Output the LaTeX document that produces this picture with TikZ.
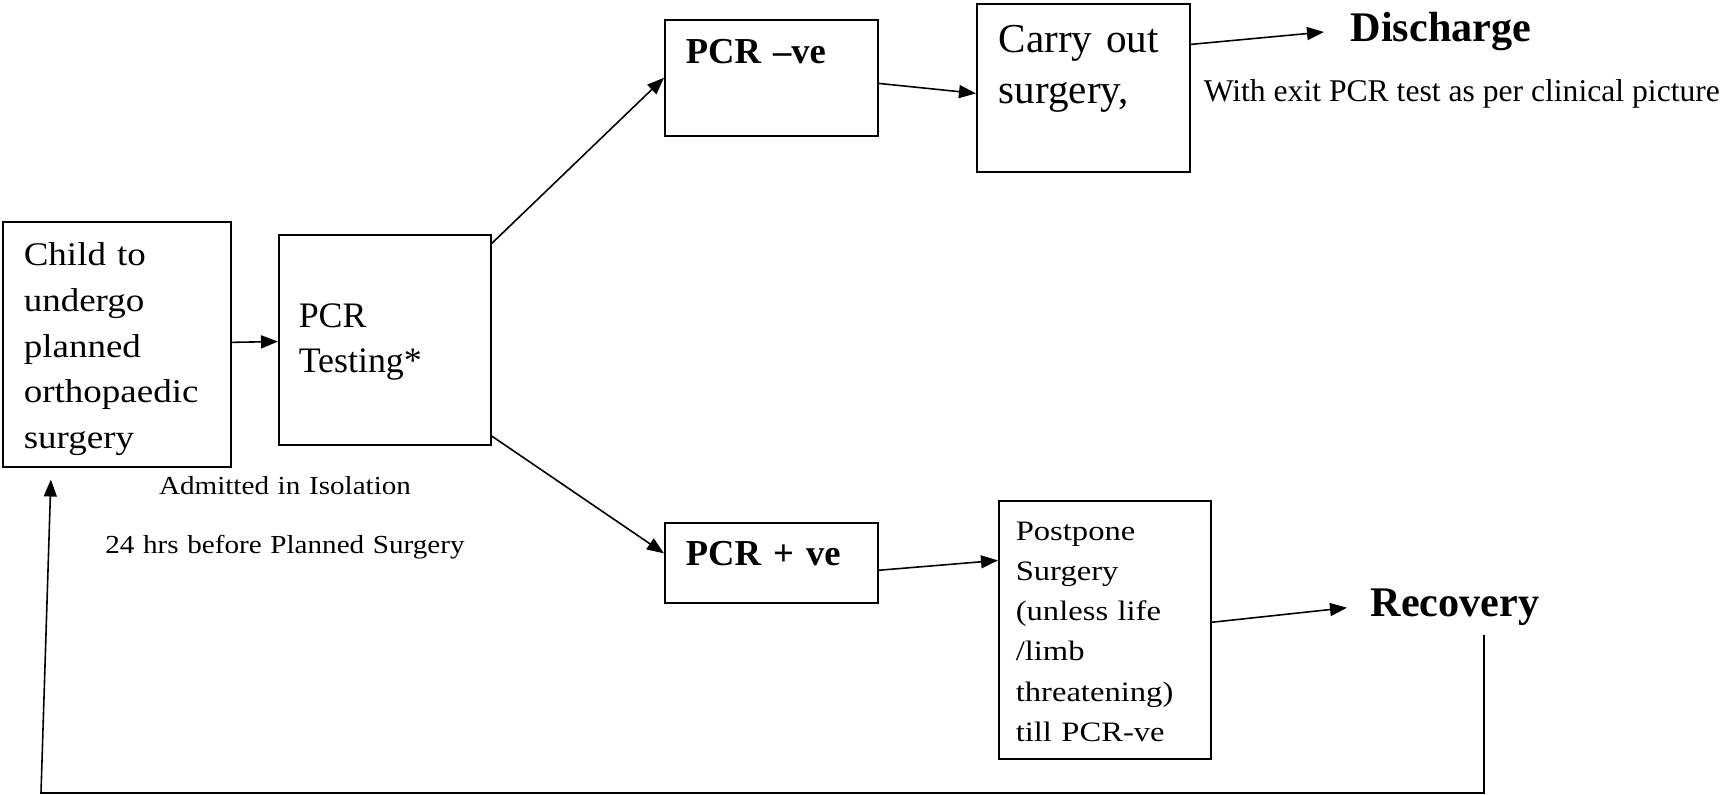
\documentclass[tikz,border=0pt]{standalone}
\usepackage{fontspec}
\setmainfont{Liberation Serif}
\newfontfamily\wideserif[FakeStretch=1.12]{Liberation Serif}
\newfontfamily\widerserif[FakeStretch=1.16]{Liberation Serif}
\usepackage{tikz}
\usetikzlibrary{arrows.meta,positioning}

\begin{document}
\begin{tikzpicture}[line width=0.45pt]
	\tikzstyle{Box}   = [draw, rectangle, anchor=north west, inner ysep=0pt, align=left]
	\tikzstyle{Arrow} = [-{Triangle[length=1.7mm, width=1.3mm]}]
	\tikzstyle{Note}  = [inner sep=0pt, anchor=base west]
	\useasboundingbox (0,0) rectangle (17.31,7.95);

	\node (child) at (0.02, 5.74) [Box, inner xsep=0.21cm, text width=1.86cm, text height=0.44cm, text depth=2.01cm,
		font=\wideserif\fontsize{9.4}{13}\selectfont] {Child to\\ undergo\\ planned\\ orthopaedic\\ surgery};
	\node (test) at (2.78, 5.61) [Box, inner xsep=0.20cm, text width=1.72cm, text height=0.93cm, text depth=1.17cm,
		font=\fontsize{10.2}{12.8}\selectfont] {PCR\\ Testing*};
	\node (neg) at (6.64, 7.76) [Box, inner xsep=0.21cm, text width=1.71cm, text height=0.44cm, text depth=0.72cm,
		font=\bfseries\fontsize{10.4}{12}\selectfont] {PCR --ve};
	\node (pos) at (6.64, 2.73) [Box, inner xsep=0.21cm, text width=1.71cm, text height=0.43cm, text depth=0.37cm,
		font=\bfseries\fontsize{10.4}{12}\selectfont] {PCR + ve};
	\node (carry) at (9.76, 7.92) [Box, inner xsep=0.22cm, text width=1.69cm, text height=0.49cm, text depth=1.19cm,
		font=\fontsize{11.7}{14.3}\selectfont] {Carry out\\ surgery,};
	\node (post) at (9.98, 2.95) [Box, inner xsep=0.17cm, text width=1.78cm, text height=0.40cm, text depth=2.18cm,
		font=\widerserif\fontsize{8}{11.4}\selectfont] {Postpone\\ Surgery\\ (unless life\\ /limb\\ threatening)\\ till PCR-ve};

	\node (discharge) at (13.24, 7.53) [Note, inner xsep=0.26cm, font=\bfseries\fontsize{12}{14}\selectfont] {Discharge};
	\node (exit) at (12.03, 6.93) [Note, font=\fontsize{9}{10}\selectfont] {With exit PCR test as per clinical picture};
	\node (recovery) at (13.47, 1.78) [Note, inner xsep=0.23cm, font=\bfseries\fontsize{12}{14}\selectfont] {Recovery};
	\node (admit) at (2.85, 3.00) [inner sep=0pt, anchor=base, text width=3.8cm, align=center,
		font=\wideserif\fontsize{7.4}{16.7}\selectfont] {Admitted in Isolation\\ 24 hrs before Planned Surgery};

	\coordinate (loopA) at (14.84, 1.60);
	\coordinate (loopB) at (14.84, 0.02);
	\coordinate (loopC) at (0.41, 0.02);

	\draw [Arrow] (child) -- (test);
	\draw [Arrow] (test.42) -- (neg.west);
	\draw [Arrow] (test.-42) -- (pos.175);
	\draw [Arrow] (neg.-3) -- (carry.183);
	\draw [Arrow] (pos.-4) -- (post.147);
	\draw [Arrow] (carry.22) -- (discharge.west);
	\draw [Arrow] (post.4) -- (recovery.west);
	\draw [Arrow, shorten >=0.12cm] (loopA) -- (loopB) -- (loopC) -- (child.242);
\end{tikzpicture}
\end{document}
